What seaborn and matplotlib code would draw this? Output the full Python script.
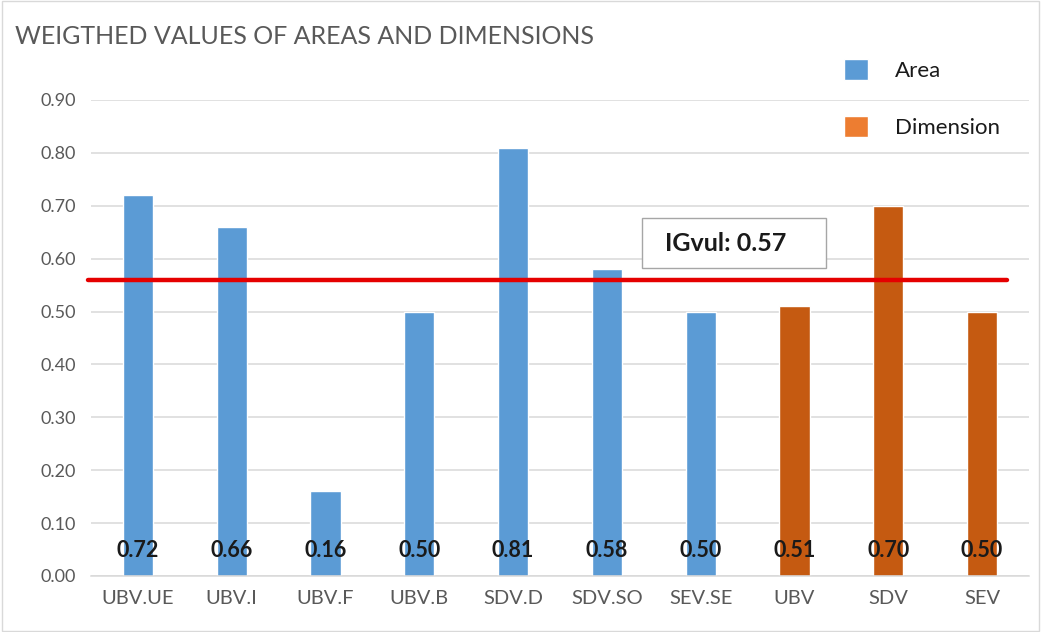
import matplotlib
matplotlib.use("Agg")
import matplotlib.pyplot as plt
import seaborn as sns
import pandas as pd
from matplotlib.patches import Patch, Rectangle

categories = ["UBV.UE", "UBV.I", "UBV.F", "UBV.B", "SDV.D", "SDV.SO", "SEV.SE", "UBV", "SDV", "SEV"]
values = [0.72, 0.66, 0.16, 0.50, 0.81, 0.58, 0.50, 0.51, 0.70, 0.50]
groups = ["Area"] * 7 + ["Dimension"] * 3
value_labels = ["0.72", "0.66", "0.16", "0.50", "0.81", "0.58", "0.50", "0.51", "0.70", "0.50"]
y_ticks = [0.0, 0.1, 0.2, 0.3, 0.4, 0.5, 0.6, 0.7, 0.8, 0.9]
igvul_line = 0.56
igvul_text = "IGvul: 0.57"
title = "WEIGTHED VALUES OF AREAS AND DIMENSIONS"

sns.set_theme(style="white")
plt.rcParams["font.family"] = ["Lato", "DejaVu Sans"]

df = pd.DataFrame({"cat": categories, "val": values, "grp": groups})

fig = plt.figure(figsize=(10.41, 6.32), dpi=100)
ax = fig.add_axes([91/1041, 56/632, (1029-91)/1041, (576-100)/632])

bar_colors = {"Area": "#5B9BD5", "Dimension": "#C55A11"}
sns.barplot(data=df, x="cat", y="val", hue="grp", palette=bar_colors,
            dodge=False, width=0.32, ax=ax, legend=False, saturation=1, zorder=2)

ax.set_ylim(0, 0.9)
ax.set_xlim(-0.5, 9.5)
ax.set_yticks(y_ticks)
ax.set_yticklabels([f"{t:.2f}" for t in y_ticks])
ax.yaxis.grid(True, color="#D9D9D9", lw=1.1, zorder=0)
ax.set_axisbelow(True)
for s in ["top", "right", "left"]:
    ax.spines[s].set_visible(False)
ax.spines["bottom"].set_color("#D9D9D9")
ax.spines["bottom"].set_linewidth(1.1)
ax.tick_params(axis="both", length=0, colors="#595959")
ax.tick_params(axis="y", pad=11, labelsize=13)
ax.tick_params(axis="x", pad=10, labelsize=14.5)
ax.set_xlabel("")
ax.set_ylabel("")

for i, lab in enumerate(value_labels):
    ax.text(i, 0.049, lab, ha="center", va="center", fontsize=15.5,
            fontweight="bold", color="#1a1a1a", zorder=5)

ax.plot([-0.53, 9.27], [igvul_line, igvul_line], color="#E50000", lw=3.2,
        clip_on=False, zorder=4)

ax.add_patch(Rectangle((5.373, 0.582), 1.962, 0.095, fc="white", ec="#A6A6A6",
                       lw=1, zorder=6))
ax.text(5.62, 0.6285, igvul_text, ha="left", va="center", fontsize=18,
        fontweight="bold", color="#1a1a1a", zorder=7)

fig.text(15/1041, 1 - 37/632, title, ha="left", va="center", fontsize=18,
         color="#595959")

handles = [Patch(facecolor="#5B9BD5", label="Area"),
           Patch(facecolor="#ED7D31", label="Dimension")]
fig.legend(handles=handles, loc="upper left", bbox_to_anchor=(824/1041, 1 - 39/632),
           frameon=False, fontsize=16, labelspacing=1.55, handlelength=1.1,
           handleheight=1.1, handletextpad=1.2, labelcolor="#1a1a1a")

fig.patches.append(Rectangle((0.002, 0.002), 0.996, 0.996, transform=fig.transFigure,
                             fill=False, ec="#D9D9D9", lw=1))

fig.savefig("out.png", dpi=100)
